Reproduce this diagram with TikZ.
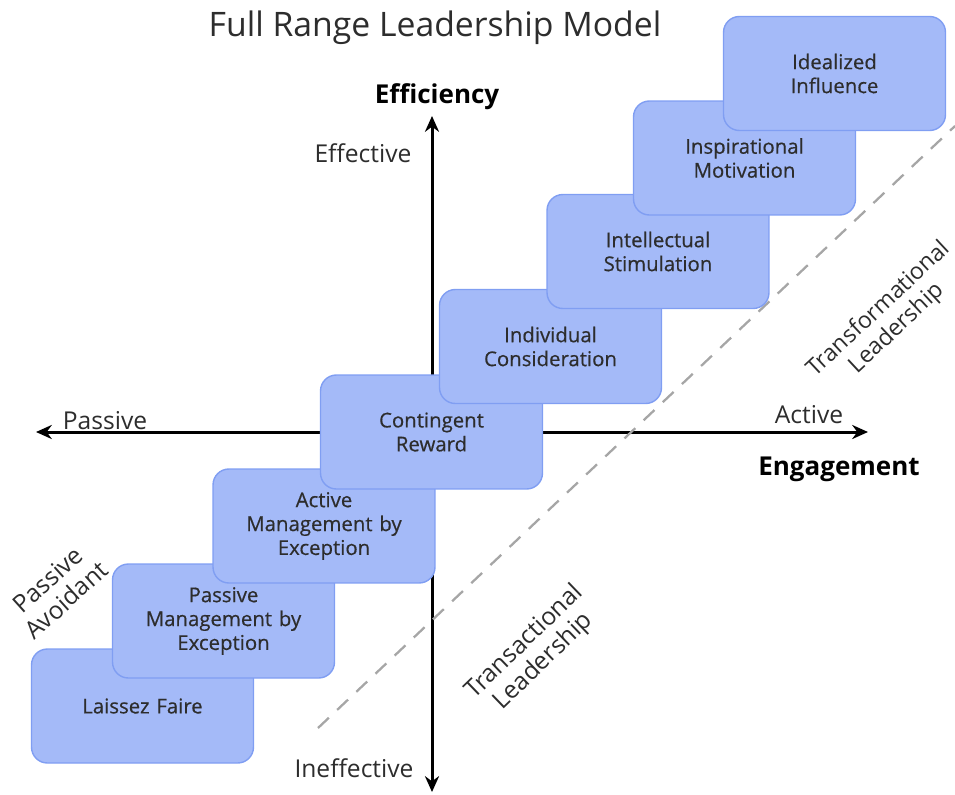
\documentclass[tikz,border=0pt]{standalone}
\usepackage{fontspec}
\setmainfont{Open Sans}
\newfontfamily\boxfont[FakeBold=0.5]{Open Sans}
\usetikzlibrary{arrows.meta,positioning}

\definecolor{boxblue}{RGB}{164,186,248}
\definecolor{boxedge}{RGB}{128,158,242}
\definecolor{inkgray}{RGB}{45,45,45}

\begin{document}
\begin{tikzpicture}[
    x=0.02cm, y=-0.02cm,
    box/.style={
        rectangle,
        draw=boxedge,
        fill=boxblue,
        thick,
        minimum width=4.44cm,
        minimum height=2.28cm,
        text width=3.9cm,
        align=center,
        rounded corners=9pt,
        text=inkgray,
        font=\boxfont\fontsize{11.6}{13.6}\selectfont
    },
    axis/.style={
        -{Stealth[length=9pt,width=8pt]},
        line width=1.7pt,
        black
    },
    label/.style={
        font=\fontsize{14}{15.5}\selectfont,
        text=inkgray,
        align=center
    },
    heading/.style={
        font=\fontsize{14.8}{17}\selectfont\bfseries,
        text=black
    },
    divider/.style={
        gray!70,
        line width=1.3pt,
        dash pattern=on 8.5pt off 6.5pt
    }
]
\useasboundingbox (0,0) rectangle (955,794);

% Title
\node[font=\fontsize{19.2}{22}\selectfont, text=inkgray] (title) at (435,28) {Full Range Leadership Model};

% Axes
\coordinate (origin) at (432,432);
\coordinate (top) at (432,116);
\coordinate (bottom) at (432,792);
\coordinate (left) at (36,432);
\coordinate (right) at (868,432);
\draw[axis] (origin) -- (top);
\draw[axis] (origin) -- (bottom);
\draw[axis] (origin) -- (left);
\draw[axis] (origin) -- (right);

% Dashed divider
\coordinate (divlow) at (318,728);
\coordinate (divhigh) at (955,126);
\draw[divider] (divlow) -- (divhigh);

% Axis labels
\node[heading] (efficiency) at (437,97) {Efficiency};
\node[heading] (engagement) at (839,469) {Engagement};
\node[label] (effective) at (363,153) {Effective};
\node[label] (ineffective) at (354,768) {Ineffective};
\node[label] (passive) at (105,421) {Passive};
\node[label] (active) at (809,415) {Active};

% Leadership styles
\node[box] (laissez) at (142.5,706) {Laissez Faire};
\node[box] (mbepassive) at (223.5,621) {Passive\\Management by\\Exception};
\node[box] (mbeactive) at (324,526) {Active\\Management by\\Exception};
\node[box] (reward) at (431.5,432) {Contingent\\Reward};
\node[box] (consideration) at (550.5,346.5) {Individual\\Consideration};
\node[box] (stimulation) at (658,251.5) {Intellectual\\Stimulation};
\node[box] (motivation) at (744.5,158) {Inspirational\\Motivation};
\node[box] (influence) at (834.5,73.5) {Idealized\\Influence};

% Rotated group labels
\node[label, rotate=43, font=\fontsize{13.2}{15}\selectfont] (transform) at (888,319) {Transformational\\Leadership};
\node[label, rotate=44] (transact) at (534,652) {Transactional\\Leadership};
\node[label, rotate=42] (avoidant) at (57,590) {Passive\\Avoidant};

\end{tikzpicture}
\end{document}
